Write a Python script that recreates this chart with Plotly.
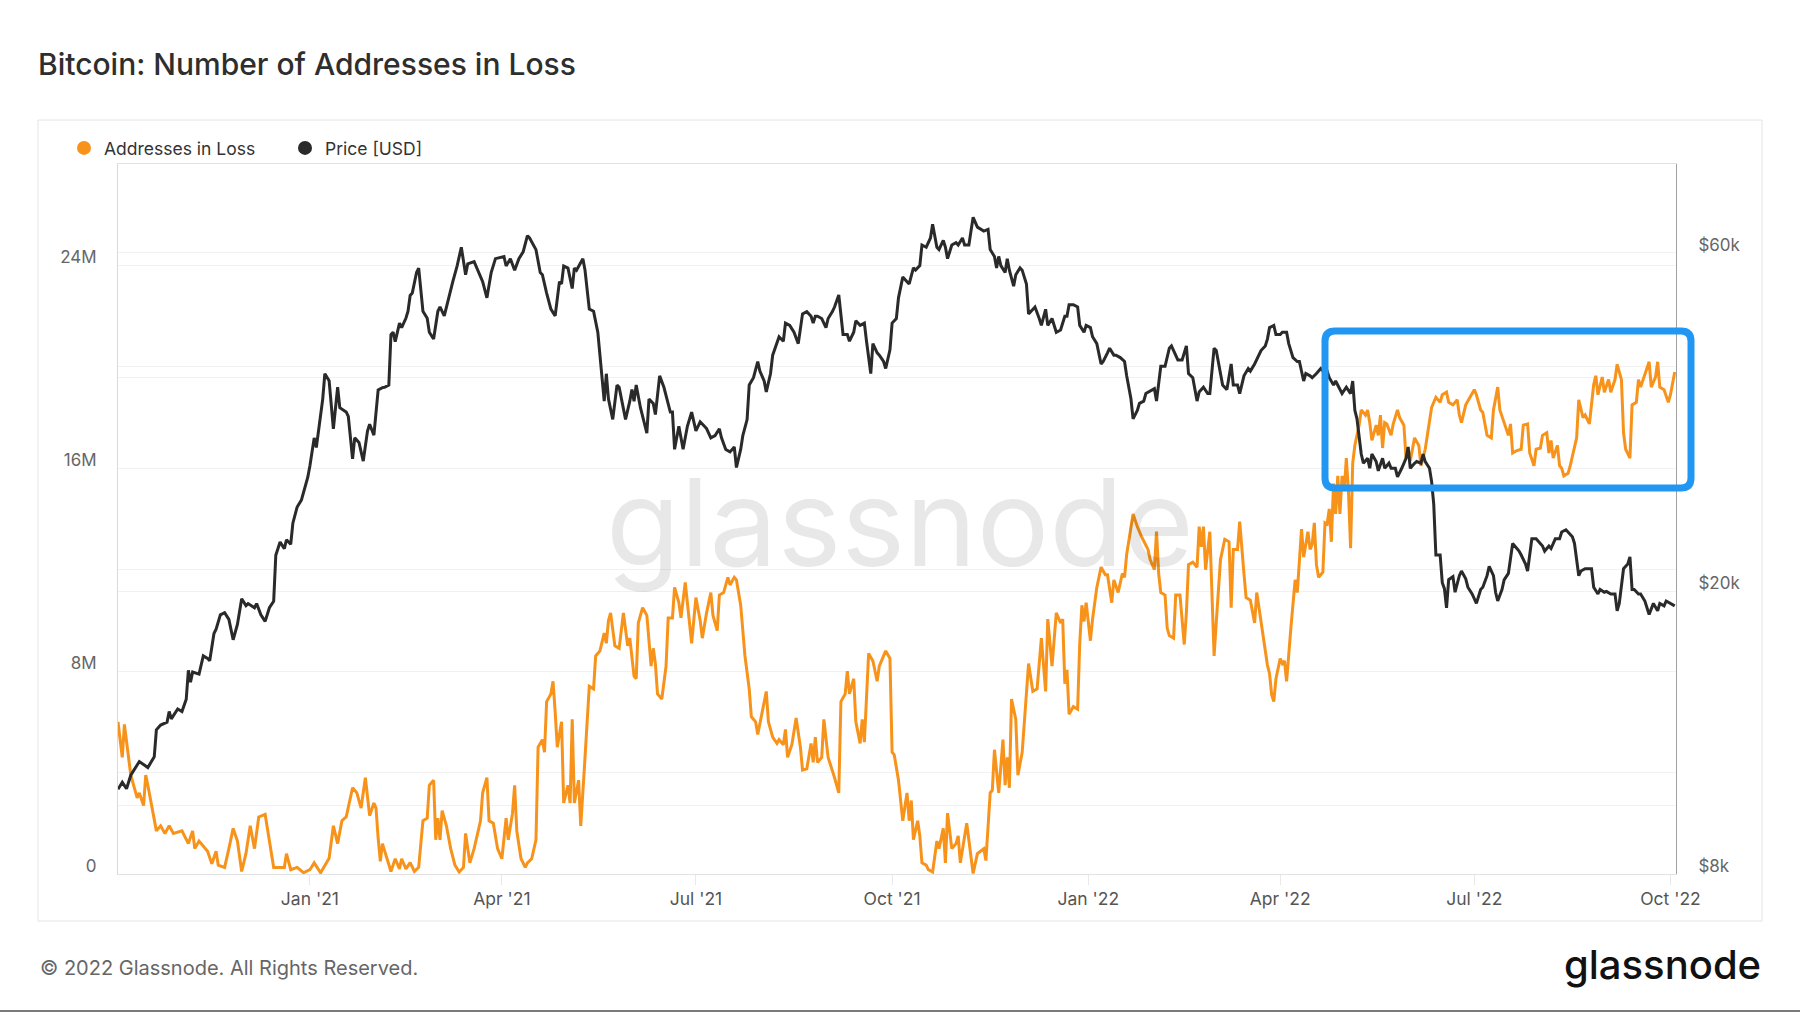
import math
import pandas as pd
import plotly.graph_objects as go

START = "2020-10-03"

# Addresses in Loss (days since START, millions)
loss_day = [
    0, 2, 3, 6, 9, 10, 12, 13, 14, 17,
    18, 20, 22, 24, 26, 30, 33, 35, 36, 38,
    42, 44, 46, 47, 50, 52, 54, 56, 58, 60,
    62, 64, 66, 69, 71, 73, 78, 79, 81, 84,
    87, 90, 92, 95, 99, 101, 103, 105, 107, 110,
    112, 114, 116, 118, 120, 121, 122, 123, 124, 126,
    128, 130, 132, 133, 135, 137, 139, 141, 143, 145,
    146, 148, 149, 150, 151, 152, 154, 156, 158, 160,
    162, 163, 165, 167, 170, 171, 173, 174, 176, 178,
    180, 182, 183, 185, 186, 187, 189, 191, 192, 194,
    196, 197, 199, 200, 201, 203, 204, 205, 206, 208,
    209, 211, 212, 213, 214, 216, 217, 219, 221, 223,
    224, 226, 228, 229, 230, 231, 233, 235, 237, 239,
    240, 242, 243, 244, 246, 248, 250, 251, 252, 253,
    255, 257, 258, 260, 261, 263, 264, 266, 268, 269,
    271, 273, 274, 276, 278, 279, 281, 282, 284, 286,
    287, 289, 290, 292, 294, 296, 297, 299, 300, 302,
    304, 305, 307, 309, 310, 312, 313, 314, 316, 318,
    320, 321, 323, 325, 326, 327, 328, 330, 331, 333,
    335, 336, 338, 339, 341, 342, 343, 345, 346, 348,
    349, 350, 352, 354, 356, 357, 359, 360, 362, 363,
    364, 366, 368, 370, 371, 372, 373, 375, 376, 377,
    379, 380, 382, 384, 385, 387, 388, 389, 391, 393,
    394, 395, 398, 400, 401, 403, 406, 407, 409, 410,
    411, 413, 415, 416, 417, 418, 419, 421, 422, 424,
    425, 427, 429, 431, 433, 435, 436, 438, 440, 442,
    443, 444, 445, 446, 448, 450, 451, 452, 453, 454,
    456, 457, 459, 461, 463, 464, 466, 467, 469, 471,
    472, 473, 476, 478, 480, 482, 483, 484, 486, 487,
    488, 489, 491, 492, 493, 495, 496, 498, 499, 500,
    501, 502, 504, 506, 507, 508, 509, 510, 512, 514,
    515, 517, 519, 521, 522, 523, 525, 526, 528, 529,
    531, 533, 534, 536, 538, 539, 540, 541, 542, 543,
    545, 546, 547, 548, 550, 551, 552, 553, 554, 555,
    556, 558, 559, 560, 561, 562, 563, 565, 566, 567,
    568, 569, 570, 571, 572, 573, 574, 575, 576, 577,
    578, 579, 580, 582, 583, 585, 586, 587, 588, 590,
    591, 592, 593, 594, 595, 597, 598, 600, 601, 603,
    604, 605, 606, 607, 608, 610, 611, 613, 615, 616,
    618, 620, 621, 623, 624, 626, 628, 629, 630, 632,
    634, 636, 637, 639, 640, 642, 644, 645, 647, 648,
    650, 652, 653, 654, 656, 658, 659, 661, 662, 664,
    665, 667, 668, 670, 671, 672, 673, 675, 676, 677,
    678, 680, 681, 683, 684, 685, 687, 688, 690, 692,
    693, 694, 696, 697, 699, 700, 702, 703, 705, 706,
    707, 709, 710, 712, 713, 714, 716, 718, 719, 721,
    722, 723, 725, 727, 728, 730,
]
loss_m = [
    6.0, 4.6, 5.9, 3.9, 3.0, 3.2, 2.7, 3.9, 3.5, 2.1,
    1.7, 1.9, 1.6, 1.9, 1.6, 1.7, 1.2, 1.7, 1.0, 1.3,
    0.9, 0.4, 0.9, 0.35, 0.26, 1.0, 1.8, 1.3, 0.1, 0.8,
    1.9, 1.0, 2.25, 2.35, 1.35, 0.26, 0.26, 0.8, 0.17, 0.26,
    0.05, 0.17, 0.44, 0.05, 0.62, 1.9, 1.2, 2.1, 2.25, 3.4,
    3.2, 2.6, 3.8, 2.3, 2.8, 2.6, 1.4, 0.5, 1.2, 0.6,
    0.1, 0.6, 0.2, 0.6, 0.2, 0.45, 0.1, 0.26, 2.1, 2.2,
    3.5, 3.7, 1.35, 2.2, 1.35, 2.5, 1.9, 1.0, 0.35, 0.08,
    0.26, 1.6, 0.44, 1.0, 2.1, 3.2, 3.8, 2.1, 2.0, 1.0,
    0.6, 2.2, 1.35, 2.4, 3.5, 1.7, 0.6, 0.26, 0.44, 0.6,
    1.35, 5.0, 5.3, 4.8, 6.8, 7.1, 7.6, 6.4, 5.0, 6.0,
    2.8, 3.5, 2.8, 6.1, 2.8, 3.7, 1.9, 4.6, 7.4, 7.3,
    8.6, 8.8, 9.5, 9.1, 10.0, 10.3, 9.0, 8.9, 10.3, 9.0,
    9.3, 7.8, 7.7, 9.9, 10.5, 10.2, 8.2, 8.9, 8.3, 7.1,
    6.9, 8.2, 10.1, 10.1, 11.3, 10.7, 10.1, 11.5, 10.0, 9.1,
    10.9, 10.0, 9.3, 10.3, 11.1, 10.2, 9.6, 11.0, 11.1, 11.7,
    11.4, 11.7, 11.6, 10.6, 8.6, 7.3, 6.2, 6.0, 5.5, 6.4,
    7.2, 6.0, 5.4, 5.15, 5.3, 5.1, 5.7, 4.6, 5.1, 6.15,
    5.0, 4.1, 4.15, 5.15, 4.4, 5.4, 4.4, 4.6, 6.1, 4.6,
    4.1, 3.8, 3.2, 6.8, 7.1, 8.0, 7.1, 7.7, 6.0, 5.15,
    6.1, 5.2, 8.7, 8.4, 7.6, 8.2, 8.6, 8.8, 8.5, 4.8,
    4.7, 3.7, 2.1, 3.2, 2.1, 2.9, 1.35, 2.1, 1.5, 0.44,
    0.35, 0.17, 0.08, 1.3, 1.0, 1.8, 0.44, 2.4, 1.0, 1.2,
    1.5, 0.44, 2.0, 0.53, 0.02, 0.8, 1.0, 0.53, 3.2, 3.3,
    4.9, 3.2, 5.3, 3.5, 4.6, 3.4, 6.9, 6.1, 3.9, 4.8,
    5.9, 8.3, 7.2, 7.3, 9.3, 7.2, 10.05, 8.2, 10.3, 9.9,
    10.05, 7.5, 8.05, 6.3, 6.6, 6.5, 9.1, 10.6, 9.96, 10.7,
    9.2, 10.05, 11.3, 12.1, 11.8, 11.8, 10.7, 11.6, 11.1, 11.85,
    11.7, 12.6, 14.2, 13.7, 13.3, 13.0, 12.8, 12.4, 12.0, 13.5,
    11.85, 11.1, 11.0, 9.7, 9.4, 9.3, 11.0, 11.0, 10.05, 9.05,
    10.3, 12.2, 12.3, 12.1, 13.7, 12.9, 13.7, 12.0, 13.5, 8.6,
    9.9, 12.4, 13.2, 13.1, 10.5, 12.8, 12.8, 13.9, 11.85, 10.9,
    10.8, 9.9, 11.1, 9.96, 8.96, 8.24, 7.9, 7.06, 6.8, 7.7,
    8.5, 8.3, 8.4, 7.6, 9.7, 10.6, 11.6, 11.1, 12.2, 13.6,
    12.5, 13.5, 12.8, 13.0, 13.85, 12.2, 11.7, 11.9, 13.85, 13.8,
    14.4, 13.1, 15.4, 14.2, 15.7, 14.2, 15.7, 15.1, 16.4, 15.1,
    12.85, 16.2, 16.9, 17.7, 18.3, 18.1, 18.3, 17.8, 17.1, 17.7,
    17.3, 18.1, 16.8, 17.8, 17.75, 17.3, 17.75, 18.3, 18.0, 17.7,
    16.4, 16.75, 16.3, 16.7, 17.2, 16.9, 16.1, 16.75, 17.8, 18.4,
    18.8, 18.6, 18.9, 19.0, 18.6, 18.5, 18.7, 18.1, 17.8, 18.5,
    18.8, 19.1, 18.9, 18.3, 18.2, 17.3, 17.2, 18.3, 19.2, 18.3,
    17.8, 17.3, 17.75, 16.6, 16.7, 16.75, 17.7, 17.75, 16.6, 16.1,
    16.75, 16.8, 17.3, 17.4, 16.6, 17.1, 16.4, 16.9, 16.1, 16.0,
    15.7, 15.8, 16.1, 16.8, 17.2, 18.7, 18.0, 18.1, 17.75, 19.3,
    19.65, 18.9, 19.6, 19.0, 19.5, 19.0, 19.5, 20.1, 19.5, 17.4,
    16.75, 16.4, 18.5, 18.6, 19.5, 19.2, 19.7, 20.2, 19.2, 19.6,
    20.2, 19.2, 19.1, 18.6, 18.9, 19.8,
]

# Price [USD] (days since START, USD)
price_day = [
    0, 2, 4, 6, 10, 12, 14, 17, 18, 20,
    23, 24, 25, 28, 30, 32, 33, 34, 35, 38,
    40, 42, 43, 45, 46, 48, 50, 52, 54, 56,
    58, 60, 61, 64, 65, 67, 69, 71, 73, 74,
    76, 78, 79, 81, 82, 84, 86, 89, 90, 92,
    93, 96, 97, 99, 101, 103, 104, 107, 108, 110,
    111, 113, 115, 117, 118, 120, 122, 124, 125, 127,
    128, 129, 130, 132, 133, 135, 136, 137, 138, 140,
    141, 143, 145, 146, 148, 150, 151, 153, 155, 157,
    159, 161, 163, 164, 167, 169, 171, 173, 175, 177,
    179, 181, 182, 184, 186, 188, 190, 192, 193, 196,
    198, 199, 201, 203, 205, 207, 208, 209, 211, 213,
    214, 215, 218, 219, 221, 223, 225, 226, 228, 229,
    230, 232, 234, 235, 237, 238, 240, 241, 242, 243,
    245, 246, 248, 249, 251, 252, 254, 256, 257, 259,
    260, 261, 263, 265, 267, 269, 271, 273, 275, 276,
    278, 280, 282, 283, 285, 287, 289, 290, 292, 293,
    295, 296, 298, 300, 301, 303, 304, 306, 307, 309,
    310, 312, 313, 315, 317, 319, 320, 321, 323, 325,
    326, 327, 328, 330, 332, 333, 335, 336, 338, 339,
    340, 342, 343, 345, 346, 348, 350, 351, 353, 354,
    356, 357, 359, 360, 362, 363, 365, 366, 368, 370,
    371, 373, 374, 376, 377, 379, 381, 382, 384, 385,
    387, 388, 389, 391, 393, 394, 396, 397, 399, 400,
    401, 403, 405, 406, 408, 409, 411, 412, 413, 414,
    416, 417, 418, 420, 421, 423, 424, 426, 427, 429,
    430, 432, 433, 435, 436, 438, 440, 442, 444, 445,
    446, 448, 450, 451, 453, 454, 456, 457, 459, 461,
    462, 464, 465, 467, 468, 470, 472, 473, 475, 476,
    478, 479, 481, 482, 484, 486, 487, 489, 491, 493,
    494, 496, 497, 499, 501, 502, 504, 506, 507, 509,
    511, 512, 514, 515, 517, 518, 520, 522, 523, 525,
    526, 528, 530, 531, 533, 534, 536, 538, 539, 540,
    542, 543, 545, 546, 548, 549, 551, 553, 554, 556,
    557, 559, 560, 562, 564, 565, 567, 568, 570, 571,
    573, 574, 576, 578, 579, 580, 581, 582, 583, 584,
    586, 587, 588, 590, 591, 593, 594, 596, 597, 599,
    600, 602, 604, 605, 606, 608, 609, 611, 612, 613,
    615, 616, 617, 618, 620, 621, 622, 623, 624, 626,
    627, 629, 630, 632, 633, 635, 637, 639, 640, 642,
    643, 645, 646, 647, 649, 650, 652, 654, 655, 657,
    658, 660, 661, 663, 665, 666, 668, 669, 671, 672,
    674, 676, 677, 679, 680, 682, 683, 685, 686, 688,
    690, 691, 692, 694, 695, 697, 698, 700, 702, 703,
    704, 706, 708, 709, 710, 711, 713, 714, 716, 717,
    718, 720, 722, 723, 725, 726, 728, 730,
]
price_usd = [
    10530, 10770, 10550, 11020, 11520, 11400, 11300, 11700, 12770, 12970,
    13090, 13550, 13230, 13660, 13550, 14100, 15490, 14900, 15400, 15300,
    16230, 16100, 15970, 17450, 17700, 18540, 18670, 18270, 17100, 17970,
    19530, 19100, 19230, 18970, 19230, 18540, 18150, 18970, 19370, 22490,
    23480, 22980, 23650, 23310, 24960, 26300, 26900, 28970, 30070, 32910,
    31900, 37320, 40520, 39600, 33900, 38800, 36300, 35800, 35280, 30750,
    32910, 32420, 30530, 33640, 34400, 33200, 38450, 38740, 38780, 39060,
    46020, 46370, 44980, 47750, 47040, 48510, 49620, 52230, 52630, 56270,
    57070, 49620, 48510, 46370, 45350, 49620, 50340, 48880, 51840, 54620,
    57460, 61080, 55870, 57870, 58300, 56270, 54620, 51840, 56270, 58850,
    59000, 59270, 57460, 58850, 56670, 58850, 60180, 63400, 62950, 60600,
    56270, 55870, 52630, 49980, 48880, 54620, 54220, 57460, 57070, 53420,
    57070, 56670, 58850, 56670, 49980, 49620, 46370, 43050, 37070, 40520,
    37320, 34950, 39060, 38780, 36300, 34950, 37070, 38490, 37070, 39060,
    36300, 35250, 33410, 37320, 36790, 35500, 40240, 38780, 37840, 35780,
    35780, 31710, 34170, 31710, 34170, 35780, 33660, 34670, 34170, 33920,
    32910, 33160, 33900, 32910, 31700, 31450, 31950, 29900, 31700, 33160,
    34930, 39060, 40000, 42160, 40870, 39580, 38200, 40550, 43040, 44680,
    45680, 45030, 47760, 47400, 46360, 44680, 46700, 49200, 49560, 48830,
    47760, 48830, 48830, 48470, 47060, 48470, 49560, 50310, 52310, 48470,
    46020, 46020, 45030, 46360, 48110, 47400, 47760, 45030, 40550, 44680,
    43360, 43040, 42160, 41210, 43800, 47760, 48470, 51830, 55440, 54620,
    54220, 57120, 56700, 57540, 61520, 61080, 62930, 65810, 61080, 60630,
    62460, 61080, 58850, 61520, 61980, 61520, 62930, 61520, 61520, 64360,
    67300, 65190, 64700, 64360, 64700, 60630, 59280, 57120, 59280, 57540,
    56260, 58850, 56700, 53820, 55850, 57120, 56700, 54220, 49200, 49940,
    50310, 48470, 47400, 49940, 47400, 48470, 46360, 46700, 48830, 48830,
    50690, 50690, 50310, 47400, 46360, 47400, 47060, 45680, 44680, 41830,
    42160, 43360, 44020, 43040, 43040, 42700, 42160, 40250, 37360, 35010,
    35980, 36810, 37080, 38000, 38300, 38600, 37080, 41520, 41520, 44020,
    44350, 43040, 42380, 42380, 44350, 40550, 40000, 37080, 38200, 38780,
    38000, 38000, 44020, 43690, 40250, 39060, 38490, 41830, 39060, 39060,
    38000, 40250, 41210, 40870, 41830, 42380, 43690, 44350, 45340, 47060,
    47400, 46020, 46020, 46360, 46360, 44680, 42700, 42160, 42160, 39580,
    40550, 40250, 40000, 40550, 41210, 40870, 40870, 40000, 39060, 39580,
    38490, 38000, 38780, 38000, 39580, 35990, 35010, 33160, 31230, 30320,
    30800, 29820, 31230, 30480, 29580, 30800, 29820, 30320, 29820, 29820,
    29000, 29820, 30800, 31950, 29820, 30300, 30480, 30320, 31230, 30480,
    29820, 28560, 26520, 22510, 22510, 20580, 20180, 18960, 20780, 20990,
    19950, 21050, 21370, 20840, 20280, 19840, 19240, 20130, 20280, 21050,
    21690, 21050, 19950, 19390, 20130, 20760, 21210, 23370, 23180, 22800,
    22510, 21870, 21370, 23720, 23720, 23550, 23180, 22800, 23180, 22990,
    23720, 23720, 24250, 24430, 24250, 23890, 23370, 21050, 21370, 21530,
    21530, 21530, 20280, 19840, 20130, 19950, 20000, 19840, 19840, 18780,
    19240, 21530, 21870, 22370, 20130, 20130, 19840, 19840, 19390, 18900,
    18560, 19240, 18780, 19240, 19090, 19390, 19240, 19090,
]

series_names = ["Addresses in Loss", "Price [USD]"]

x_tick_dates = ["2021-01-01", "2021-04-01", "2021-07-01", "2021-10-01",
                "2022-01-01", "2022-04-01", "2022-07-01", "2022-10-01"]
x_tick_labels = ["Jan '21", "Apr '21", "Jul '21", "Oct '21",
                 "Jan '22", "Apr '22", "Jul '22", "Oct '22"]
left_tick_vals = [0, 4e6, 8e6, 12e6, 16e6, 20e6, 24e6]
left_tick_labels = ["0", "", "8M", "", "16M", "", "24M"]
right_tick_vals = [8000, 10000, 20000, 40000, 60000]
right_tick_labels = ["$8k", "", "$20k", "", "$60k"]

ORANGE = "#F7931A"
DARK = "#2a2a2a"
FONT = "Inter"

start = pd.Timestamp(START)
x_loss = start + pd.to_timedelta(loss_day, unit="D")
x_price = start + pd.to_timedelta(price_day, unit="D")

fig = go.Figure()
fig.add_trace(go.Scatter(
    x=x_loss, y=[v * 1e6 for v in loss_m], mode="lines", name=series_names[0],
    line=dict(color=ORANGE, width=3), showlegend=False, yaxis="y",
    hoverinfo="skip"))
fig.add_trace(go.Scatter(
    x=x_price, y=price_usd, mode="lines", name=series_names[1],
    line=dict(color=DARK, width=3), showlegend=False, yaxis="y2",
    hoverinfo="skip"))
# legend entries as dots
for nm, col in zip(series_names, [ORANGE, DARK]):
    fig.add_trace(go.Scatter(x=[None], y=[None], mode="markers", name=nm,
                             marker=dict(size=14, color=col), showlegend=True))

# pixel geometry helpers (plot area: x 118..1676, y 164..874)
L, R, T, B = 118, 124, 164, 139
PW, PH = 1800 - L - R, 1013 - T - B


def px(xp):
    return (xp - L) / PW


def py(yp):
    return (1013 - B - yp) / PH


x_end = start + pd.Timedelta(days=730.6)

fig.update_layout(
    width=1800, height=1013,
    margin=dict(l=L, r=R, t=T, b=B, pad=0),
    paper_bgcolor="white", plot_bgcolor="white",
    font=dict(family=FONT, color="#333"),
    title=dict(text="Bitcoin: Number of Addresses in Loss",
               x=38 / 1800, xref="container", xanchor="left",
               y=1 - 64 / 1013, yref="container", yanchor="middle",
               font=dict(family=FONT, size=30, color="#2e2e2e", weight=500)),
    showlegend=True,
    legend=dict(orientation="h", x=px(64), xanchor="left",
                y=py(148), yanchor="middle",
                font=dict(family=FONT, size=17.5, color="#333"),
                entrywidth=176, entrywidthmode="pixels",
                bgcolor="rgba(0,0,0,0)", borderwidth=0,
                itemclick=False, itemdoubleclick=False),
    xaxis=dict(type="date", range=[start, x_end],
               tickvals=x_tick_dates, ticktext=x_tick_labels,
               ticks="outside", ticklen=10, tickcolor="#e8e8e8", tickwidth=1,
               showgrid=False, zeroline=False,
               showline=True, linecolor="#e2e2e2", linewidth=1, mirror=True,
               tickfont=dict(family=FONT, size=17.5, color="#555"),
               ticklabelstandoff=-1),
    yaxis=dict(range=[0, 28e6], tickvals=left_tick_vals, ticktext=left_tick_labels,
               showgrid=True, gridcolor="#f1f1f1", gridwidth=1, zeroline=False,
               showline=True, linecolor="#fbd2a6", linewidth=1, ticks="",
               tickfont=dict(family=FONT, size=17, color="#666"),
               ticklabelstandoff=17, ticklabelshift=-8),
    yaxis2=dict(overlaying="y", side="right", type="log",
                range=[math.log10(8000), math.log10(80000)],
                tickvals=right_tick_vals, ticktext=right_tick_labels,
                showgrid=True, gridcolor="#f1f1f1", gridwidth=1, zeroline=False,
                showline=True, linecolor="#a0a0a0", linewidth=1, ticks="",
                tickfont=dict(family=FONT, size=17, color="#666"),
                ticklabelstandoff=18, ticklabelshift=-8),
)

# card frame, bottom rule, highlight box
x0b, x1b, y1b, y0b = px(1325), px(1691), py(331), py(488)
rx, ry = 10 / PW, 10 / PH
box_path = (f"M {x0b+rx},{y1b} L {x1b-rx},{y1b} Q {x1b},{y1b} {x1b},{y1b-ry} "
            f"L {x1b},{y0b+ry} Q {x1b},{y0b} {x1b-rx},{y0b} "
            f"L {x0b+rx},{y0b} Q {x0b},{y0b} {x0b},{y0b+ry} "
            f"L {x0b},{y1b-ry} Q {x0b},{y1b} {x0b+rx},{y1b} Z")
fig.update_layout(shapes=[
    dict(type="rect", xref="paper", yref="paper",
         x0=px(38), x1=px(1762), y0=py(921), y1=py(120),
         line=dict(color="#e4e4e4", width=1), fillcolor="rgba(0,0,0,0)", layer="below"),
    dict(type="line", xref="paper", yref="paper",
         x0=px(0), x1=px(1800), y0=py(1011), y1=py(1011),
         line=dict(color="#7a7a7a", width=2)),
    dict(type="path", xref="paper", yref="paper", path=box_path,
         line=dict(color="#2196F3", width=7), fillcolor="rgba(0,0,0,0)"),
])

fig.update_layout(annotations=[
    dict(text="glassnode", xref="paper", yref="paper", x=px(900), y=py(522),
         xanchor="center", yanchor="middle", showarrow=False,
         font=dict(family=FONT, size=121, color="rgba(0,0,0,0.09)")),
    dict(text="© 2022 Glassnode. All Rights Reserved.", xref="paper", yref="paper",
         x=px(38), y=py(968), xanchor="left", yanchor="middle", showarrow=False,
         font=dict(family=FONT, size=20, color="#666")),
    dict(text="glassnode", xref="paper", yref="paper",
         x=px(1763), y=py(964), xanchor="right", yanchor="middle", showarrow=False,
         font=dict(family=FONT, size=40, color="#111", weight=500)),
])

fig.write_html("out.html")
